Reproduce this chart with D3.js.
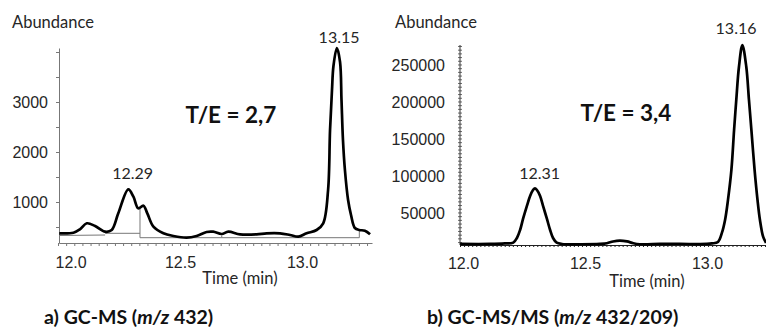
<!DOCTYPE html>
<html>
<head>
<meta charset="utf-8">
<script src="https://cdn.jsdelivr.net/npm/d3@7"></script>
<style>
  body { margin: 0; background: #fff; }
  svg { display: block; font-family: Lato, "Open Sans", sans-serif; }
</style>
</head>
<body>
<div class="canvas"></div>
<script>
// a) GC-MS (m/z 432) trace: time in min, abundance
const gcTime = [12.005, 12.063, 12.09, 12.118, 12.152, 12.193, 12.22, 12.247, 12.288, 12.309, 12.329, 12.35, 12.366,
  12.391, 12.432, 12.473, 12.527, 12.568, 12.609, 12.636, 12.671, 12.698, 12.746, 12.814, 12.855, 12.91, 12.951,
  12.985, 13.019, 13.06, 13.087, 13.107, 13.115, 13.123, 13.129, 13.143, 13.156, 13.162, 13.168, 13.176, 13.189,
  13.201, 13.217, 13.235, 13.258, 13.279];
const gcAbund = [374, 386, 454, 574, 520, 406, 440, 774, 1254, 1106, 874, 926, 774,
  506, 374, 320, 286, 320, 400, 406, 360, 406, 354, 354, 374, 374, 340,
  306, 374, 440, 574, 1240, 2440, 3240, 3720, 4080, 3800, 3040, 2240, 1640, 1040,
  740, 480, 440, 426, 354];

// integration baselines under the peaks: [t1, a1, t2, a2]
const gcBaselines = [
  [12.005, 330, 12.193, 340],
  [12.193, 374, 12.336, 374],
  [12.336, 860, 12.336, 286],
  [12.336, 286, 12.671, 286],
  [12.671, 286, 12.671, 330],
  [12.671, 286, 13.235, 286],
  [13.235, 286, 13.235, 440]
];

// b) GC-MS/MS (m/z 432/209) trace
const msTime = [11.988, 12.111, 12.172, 12.206, 12.221, 12.234, 12.246, 12.261, 12.275, 12.287, 12.295, 12.303,
  12.316, 12.329, 12.344, 12.357, 12.369, 12.384, 12.406, 12.48, 12.561, 12.59, 12.615, 12.643, 12.672, 12.698,
  12.725, 12.807, 12.889, 12.971, 13.02, 13.045, 13.061, 13.074, 13.086, 13.1, 13.111, 13.12, 13.131, 13.145,
  13.161, 13.172, 13.182, 13.195, 13.207, 13.217, 13.23, 13.242];
const msAbund = [8100, 8100, 8800, 9900, 16200, 27000, 41900, 58500, 73000, 81000, 83400, 81000,
  73000, 58500, 41900, 27000, 16200, 9900, 8100, 7700, 8100, 9050, 11500, 12600, 11500, 9050,
  7700, 8100, 8400, 7800, 8800, 10800, 23000, 40500, 67600, 108100, 162100, 202700, 247600, 277000,
  247600, 202700, 162100, 108100, 67600, 40500, 18000, 9500];

// tick labels
const timeTicks = [12.0, 12.5, 13.0];
const gcTicks = [1000, 2000, 3000];
const msTicks = [50000, 100000, 150000, 200000, 250000];

// peak retention time labels [t, abundance, text]
const gcPeaks = [[12.306, 1580, "12.29"], [13.152, 4286, "13.15"]];
const msPeaks = [[12.314, 104000, "12.31"], [13.119, 299600, "13.16"]];

const w = 766;
const h = 334;
const ink = "#262626";

const svg = d3.select(".canvas").append("svg").attr("width", w).attr("height", h);
svg.append("rect").attr("width", w).attr("height", h).attr("fill", "#fff");

// scales
const xA = d3.scaleLinear().domain([12.004, 13.287]).range([59, 372]);
const yA = d3.scaleLinear().domain([180, 4080]).range([243, 48]);
const xB = d3.scaleLinear().domain([11.9877, 13.3]).range([460, 780.2]);
const yB = d3.scaleLinear().domain([6700, 277000]).range([245, 45]);

const line = (x, y) => d3.line().x((d) => x(d[0])).y((d) => y(d[1])).curve(d3.curveCatmullRom.alpha(0.5));
const styleLabels = (g, size) => g.selectAll("text").attr("font-size", size).attr("font-family", null).attr("fill", ink);

// ---- panel a ----
const ga = svg.append("g");

// integration baselines
ga.append("g")
  .selectAll("line")
  .data(gcBaselines)
  .join("line")
  .attr("x1", (d) => xA(d[0]))
  .attr("y1", (d) => yA(d[1]))
  .attr("x2", (d) => xA(d[2]))
  .attr("y2", (d) => yA(d[3]))
  .attr("stroke", "#777")
  .attr("stroke-width", 1);

// x axis with minor ticks
ga.append("g")
  .attr("transform", `translate(0, ${yA.range()[0]})`)
  .call(d3.axisBottom(xA).tickValues(d3.range(12.0, 13.29, 1 / 30)).tickSize(3).tickFormat("").tickSizeOuter(0))
  .call((g) => g.selectAll("path, line").attr("stroke", "#777"));
ga.append("g")
  .attr("transform", `translate(0, ${yA.range()[0]})`)
  .call(d3.axisBottom(xA).tickValues(timeTicks).tickFormat(d3.format(".1f")).tickSize(0).tickPadding(14))
  .call((g) => g.select(".domain").remove())
  .call((g) => styleLabels(g, 16))
  .call((g) => g.select(".tick text").attr("text-anchor", "start").attr("dx", -3)); // first label is pushed inside

// y axis
ga.append("g")
  .attr("transform", `translate(${xA.range()[0]}, 0)`)
  .call(d3.axisLeft(yA).tickValues(d3.range(500, 4080, 500)).tickSize(3).tickFormat("").tickSizeOuter(0))
  .call((g) => g.selectAll("path, line").attr("stroke", "#777"));
ga.append("g")
  .attr("transform", `translate(${xA.range()[0]}, 0)`)
  .call(d3.axisLeft(yA).tickValues(gcTicks).tickFormat(d3.format("d")).tickSize(0).tickPadding(11))
  .call((g) => g.select(".domain").remove())
  .call((g) => styleLabels(g, 16));

// trace
ga.append("path")
  .datum(d3.zip(gcTime, gcAbund))
  .attr("d", line(xA, yA))
  .attr("fill", "none")
  .attr("stroke", "#000")
  .attr("stroke-width", 2.7)
  .attr("stroke-linejoin", "round");

// peak labels
ga.selectAll(".peak")
  .data(gcPeaks)
  .join("text")
  .attr("class", "peak")
  .attr("x", (d) => xA(d[0]))
  .attr("y", (d) => yA(d[1]))
  .attr("dy", "0.35em")
  .attr("text-anchor", "middle")
  .attr("font-size", 16)
  .attr("fill", ink)
  .text((d) => d[2]);

// ---- panel b ----
const gb = svg.append("g");

gb.append("g")
  .attr("transform", `translate(0, ${yB.range()[0]})`)
  .call(d3.axisBottom(xB).tickValues(d3.range(11.9877, 13.3, 1 / 60)).tickSize(2).tickFormat("").tickSizeOuter(0))
  .call((g) => g.selectAll("path, line").attr("stroke", "#222"));
gb.append("g")
  .attr("transform", `translate(0, ${yB.range()[0]})`)
  .call(d3.axisBottom(xB).tickValues(timeTicks).tickFormat(d3.format(".1f")).tickSize(0).tickPadding(13))
  .call((g) => g.select(".domain").remove())
  .call((g) => styleLabels(g, 16));

// y axis: dense minor ticks on both sides
const yAxisB = gb.append("g").attr("transform", `translate(${xB.range()[0]}, 0)`);
yAxisB.append("line")
  .attr("y1", yB.range()[0])
  .attr("y2", yB.range()[1])
  .attr("stroke", "#333");
yAxisB.selectAll(".minor")
  .data(d3.range(10000, 277000, 5000))
  .join("line")
  .attr("class", "minor")
  .attr("x1", -2)
  .attr("x2", 2)
  .attr("y1", (d) => yB(d))
  .attr("y2", (d) => yB(d))
  .attr("stroke", "#444")
  .attr("stroke-width", 0.8);
gb.append("g")
  .attr("transform", `translate(${xB.range()[0]}, 0)`)
  .call(d3.axisLeft(yB).tickValues(msTicks).tickFormat(d3.format("d")).tickSize(0).tickPadding(15))
  .call((g) => g.select(".domain").remove())
  .call((g) => styleLabels(g, 16));

gb.append("path")
  .datum(d3.zip(msTime, msAbund))
  .attr("d", line(xB, yB))
  .attr("fill", "none")
  .attr("stroke", "#000")
  .attr("stroke-width", 2.7)
  .attr("stroke-linejoin", "round");

gb.selectAll(".peak")
  .data(msPeaks)
  .join("text")
  .attr("class", "peak")
  .attr("x", (d) => xB(d[0]))
  .attr("y", (d) => yB(d[1]))
  .attr("dy", "0.35em")
  .attr("text-anchor", "middle")
  .attr("font-size", 16)
  .attr("fill", ink)
  .text((d) => d[2]);

// ---- titles and notes ----
const small = [
  { x: 12, y: 28, anchor: "start", text: "Abundance" },
  { x: 395, y: 28, anchor: "start", text: "Abundance" },
  { x: 240, y: 284, anchor: "middle", text: "Time (min)" },
  { x: 647, y: 287, anchor: "middle", text: "Time (min)" }
];
svg.selectAll(".small")
  .data(small)
  .join("text")
  .attr("class", "small")
  .attr("x", (d) => d.x)
  .attr("y", (d) => d.y)
  .attr("text-anchor", (d) => d.anchor)
  .attr("font-size", 16.5)
  .attr("fill", ink)
  .text((d) => d.text);

// T/E ratios
svg.append("text").attr("x", 231).attr("y", 123).attr("text-anchor", "middle")
  .attr("font-size", 22.5).attr("font-weight", "bold").attr("fill", "#111").text("T/E = 2,7");
svg.append("text").attr("x", 626).attr("y", 121).attr("text-anchor", "middle")
  .attr("font-size", 22.5).attr("font-weight", "bold").attr("fill", "#111").text("T/E = 3,4");

// captions
const capA = svg.append("text").attr("x", 44).attr("y", 324).attr("font-size", 19.5).attr("font-weight", "bold").attr("fill", "#111");
capA.append("tspan").text("a) GC-MS (");
capA.append("tspan").attr("font-style", "italic").text("m/z");
capA.append("tspan").text(" 432)");

const capB = svg.append("text").attr("x", 427).attr("y", 324).attr("font-size", 19.5).attr("font-weight", "bold").attr("fill", "#111");
capB.append("tspan").text("b) GC-MS/MS (");
capB.append("tspan").attr("font-style", "italic").text("m/z");
capB.append("tspan").text(" 432/209)");
</script>
</body>
</html>
